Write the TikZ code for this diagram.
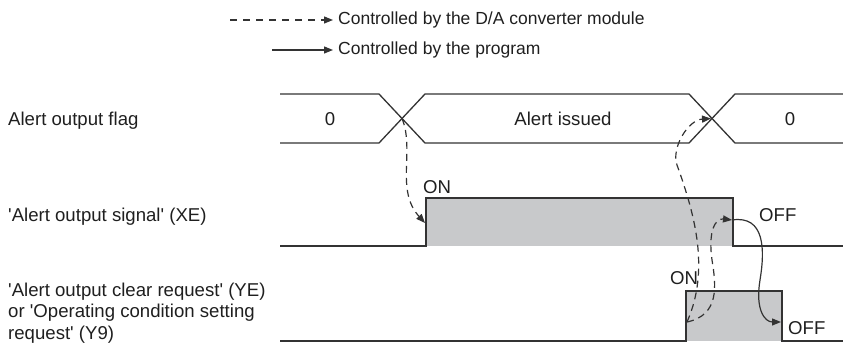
\documentclass[tikz,border=0pt]{standalone}
\usepackage{fontspec}
\setmainfont{Liberation Sans}
\usetikzlibrary{arrows.meta}
\definecolor{wave}{HTML}{333333}
\definecolor{pulse}{HTML}{C8C9CB}
\newcommand{\sq}{\textquotesingle}

\begin{document}
\begin{tikzpicture}[
  x=1pt, y=-1pt,
  txt/.style={font=\fontsize{18.6}{21.5}\selectfont, inner sep=0pt, text=wave!60!black},
  lbl/.style={txt, anchor=west, align=left},
  leg/.style={lbl, font=\fontsize{17.5}{21}\selectfont},
  sig/.style={draw=wave, line width=1.3pt},
  dasharr/.style={-{Triangle[length=9pt,width=7pt]}, draw=wave, line width=1.2pt,
    dash pattern=on 7pt off 5pt},
  solarr/.style={-{Triangle[length=9pt,width=7pt]}, draw=wave, line width=1.2pt}
]
\useasboundingbox (0,0) rectangle (843,344);

% Legend
\coordinate (dstart) at (230,20);
\coordinate (sstart) at (272,50);
\node[leg] (dtxt) at (338,20) {Controlled by the D/A converter module};
\node[leg] (stxt) at (338,50) {Controlled by the program};
\draw[dasharr, dash pattern=on 7pt off 6pt] (dstart) -- ([xshift=-5pt]dtxt.west);
\draw[solarr] (sstart) -- ([xshift=-5pt]stxt.west);

% Row labels
\node[lbl] (flag) at (8,121) {Alert output flag};
\node[lbl] (xe) at (8,217) {\sq Alert output signal\sq{} (XE)};
\node[lbl] (ye) at (8,313) {\sq Alert output clear request\sq{} (YE)\\
  or \sq Operating condition setting\\request\sq{} (Y9)};

% Alert output flag
\draw[sig] (280,94) -- (379,94) -- (425,143) -- (689,143) -- (735,94) -- (843,94);
\draw[sig] (280,143) -- (379,143) -- (425,94) -- (689,94) -- (735,143) -- (843,143);
\node[txt] (f0) at (330,119) {0};
\node[txt] (fis) at (563,119) {Alert issued};
\node[txt] (f1) at (790,119) {0};
\coordinate (cx1) at (402,118.5);
\coordinate (cx2) at (711,118.5);

% Alert output signal (XE)
\fill[pulse] (426,198) rectangle (733,246);
\draw[sig] (280,246) -- (426,246) -- (426,198) -- (733,198) -- (733,246) -- (843,246);
\node[lbl] (xeon) at (423,187) {ON};
\node[lbl] (xeoff) at (759,215) {OFF};
\coordinate (xup) at (425,223);
\coordinate (xdn) at (732,220);

% Clear request (YE)
\fill[pulse] (686,291) rectangle (782,341);
\draw[sig] (280,341) -- (686,341) -- (686,291) -- (782,291) -- (782,341) -- (843,341);
\node[lbl] (yeon) at (670,278) {ON};
\node[lbl] (yeoff) at (788,328) {OFF};
\coordinate (yup) at (687,322);
\coordinate (ydn) at (781,322);

% Connectors
\draw[dasharr] (cx1) .. controls (415,150) and (395,190) .. (xup);
\draw[dasharr] (yup) .. controls (710,270) and (695,215) .. (677,165)
  .. controls (671,148) and (688,120) .. (cx2);
\draw[dasharr] (yup) .. controls (720,315) and (716,285) .. (712,260)
  .. controls (708,232) and (715,218) .. (xdn);
\draw[solarr] (xdn) .. controls (765,215) and (765,250) .. (760,280)
  .. controls (755,310) and (765,322) .. (ydn);

\end{tikzpicture}
\end{document}
